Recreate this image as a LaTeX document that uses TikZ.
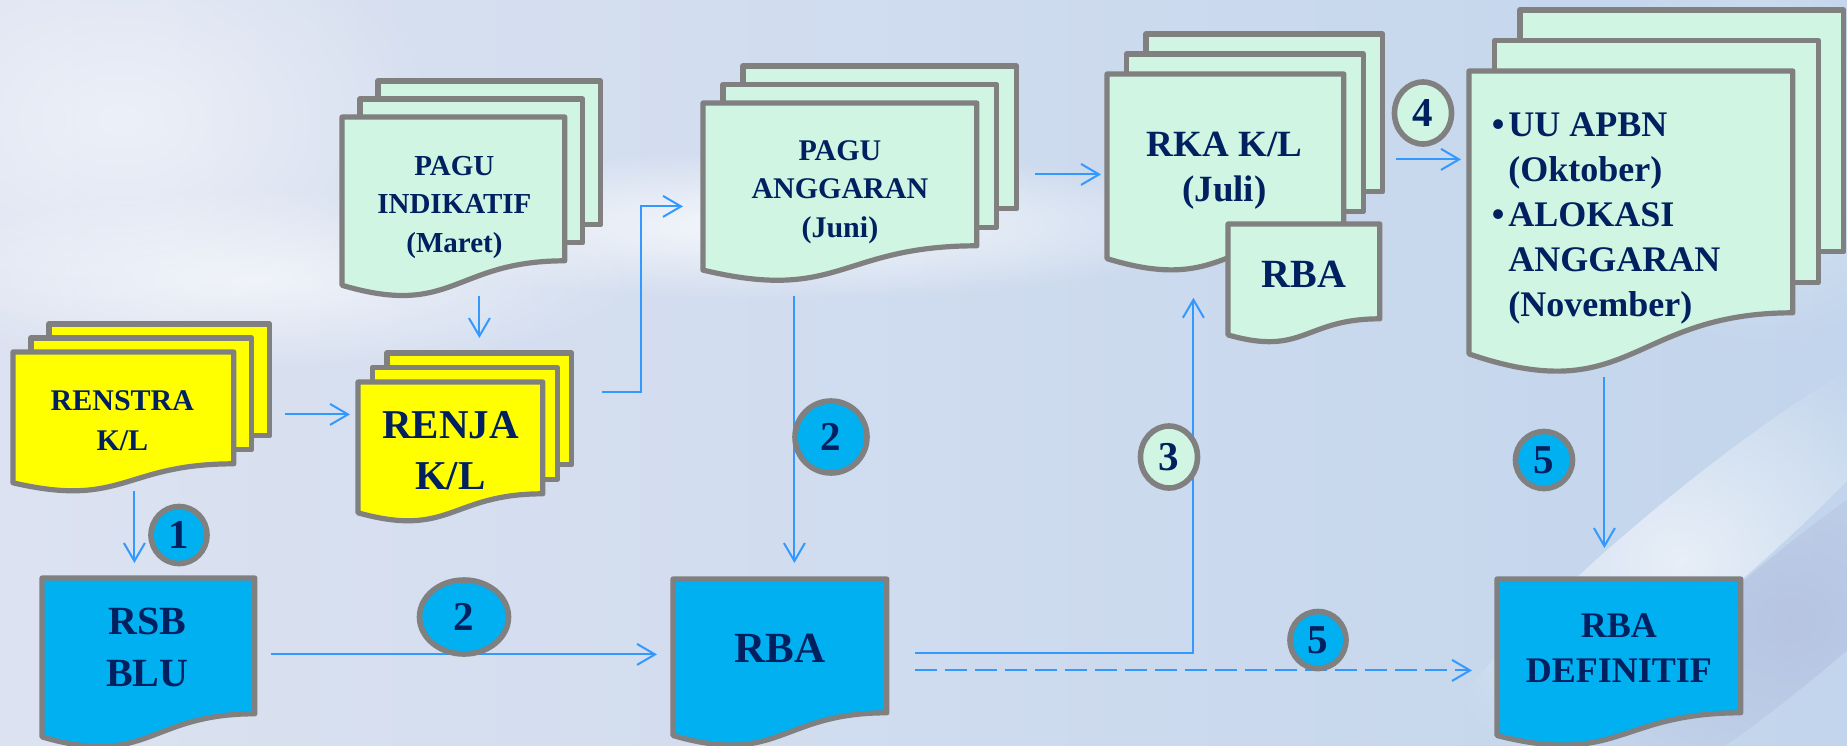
\documentclass[tikz,border=0pt]{standalone}
\usepackage{fontspec}
\setmainfont{Liberation Serif}
\usepackage{tikz}
\usepackage{xcolor}
\usetikzlibrary{shapes.geometric, arrows.meta, calc, fadings}

\definecolor{docyellow}{RGB}{255,255,0}
\definecolor{docgreen}{RGB}{208,245,226}
\definecolor{doccyan}{RGB}{0,176,240}
\definecolor{docgray}{RGB}{128,128,128}
\definecolor{docnavy}{RGB}{0,32,96}
\definecolor{flowblue}{RGB}{51,153,255}
\definecolor{bgleft}{RGB}{220,226,241}
\definecolor{bgright}{RGB}{194,213,236}
\definecolor{bgdeep}{RGB}{168,176,214}

\tikzset{
  sheet/.style={rectangle, inner sep=0pt, anchor=north west},
  docline/.style={draw=docgray, line width=2.6pt, line join=round},
  doctext/.style 2 args={text=docnavy, align=center, inner sep=0pt,
    font=\bfseries\fontsize{#1}{#2}\selectfont},
  num/.style={ellipse, draw=docgray, line width=2.8pt, fill=doccyan, inner sep=0pt,
    text=docnavy, font=\bfseries\fontsize{20.5}{24}\selectfont},
  flow/.style={draw=flowblue, line width=1pt, -{Straight Barb[length=9pt, width=10.5pt]}},
}

\tikzfading[name=haze, inner color=transparent!0, outer color=transparent!100]

% document sheet with a wavy bottom, built on a sheet node
\newcommand\docpage[2]{%
  \draw[docline, fill=#2] (#1.north west) -- (#1.north east) -- (#1.south east)
    .. controls (#1.south) and ($(#1.north)!1.4!(#1.south)$)
    .. ($(#1.north west)!1.17!(#1.south west)$) -- cycle;}
% same, with two sheets stacked behind it
\newcommand\docstack[4]{%
  \foreach \k in {2,1}
    \draw[docline, fill=#2] ($(#1.north west)+\k*(#3,#4)$) rectangle ($(#1.south east)+\k*(#3,#4)$);
  \docpage{#1}{#2}}

\begin{document}
\begin{tikzpicture}[x=0.5pt, y=-0.5pt]
% Backdrop
\clip (0,0) rectangle (1847,745);
\shade[left color=bgleft, right color=bgright] (0,0) rectangle (1847,745);
\fill[white, path fading=haze, opacity=.8] (780,225) ellipse (460 and 75);
\fill[white, path fading=haze, opacity=.6] (260,280) ellipse (380 and 90);
\fill[white, path fading=haze, opacity=.5] (120,120) ellipse (320 and 220);
\fill[white, path fading=haze, opacity=.4] (1760,150) ellipse (200 and 200);
\fill[bgdeep, path fading=haze, opacity=.45, rotate around={40:(1790,620)}] (1790,620) ellipse (320 and 60);
\fill[white, path fading=haze, opacity=.6, rotate around={40:(1680,560)}] (1680,560) ellipse (340 and 55);

% Planning documents
\node[sheet, minimum width=110pt, minimum height=55.5pt] (renstra) at (13,352) {};
\docstack{renstra}{docyellow}{18}{-14}
\node[doctext={15}{20}] (renstratxt) at ($(renstra)+(-1,12.5)$) {RENSTRA\\K/L};

\node[sheet, minimum width=92pt, minimum height=55.5pt] (renja) at (358,382) {};
\docstack{renja}{docyellow}{14.5}{-14.5}
\node[doctext={20.5}{25.5}] (renjatxt) at ($(renja)+(0,12.5)$) {RENJA\\K/L};

\node[sheet, minimum width=111pt, minimum height=71.5pt] (pagui) at (342,117) {};
\docstack{pagui}{docgreen}{18}{-18}
\node[doctext={14.5}{19.25}] (paguitxt) at ($(pagui)+(1,18.5)$) {PAGU\\INDIKATIF\\(Maret)};

\node[sheet, minimum width=136.5pt, minimum height=71pt] (pagua) at (703,103) {};
\docstack{pagua}{docgreen}{20}{-18.5}
\node[doctext={15}{19.25}] (paguatxt) at ($(pagua)+(0,17.5)$) {PAGU\\ANGGARAN\\(Juni)};

\node[sheet, minimum width=118pt, minimum height=78.5pt] (rka) at (1107,74) {};
\docstack{rka}{docgreen}{19.5}{-20}
\node[doctext={18.5}{22.5}] (rkatxt) at ($(rka)+(-1,18)$) {RKA K/L\\(Juli)};

\node[sheet, minimum width=75.5pt, minimum height=47pt] (rbas) at (1228,224) {};
\docpage{rbas}{docgreen}
\node[doctext={20}{24}] (rbastxt) at ($(rbas)+(0,2.5)$) {RBA};

\node[sheet, minimum width=161.5pt, minimum height=120.5pt] (apbn) at (1469,71) {};
\docstack{apbn}{docgreen}{25.5}{-30.5}
\node[doctext={18}{22.5}, align=left, anchor=west] (apbntxt) at ($(apbn.west)+(39,27)$)
  {\llap{\textbullet\hspace{2pt}}UU APBN\\(Oktober)\\\llap{\textbullet\hspace{2pt}}ALOKASI\\ANGGARAN\\(November)};

% BLU documents
\node[sheet, minimum width=106pt, minimum height=67.5pt] (rsb) at (42,578) {};
\docpage{rsb}{doccyan}
\node[doctext={20}{26}] (rsbtxt) at ($(rsb)+(-1,2)$) {RSB\\BLU};

\node[sheet, minimum width=106.5pt, minimum height=66.5pt] (rba) at (673,579) {};
\docpage{rba}{doccyan}
\node[doctext={21.5}{26}] (rbatxt) at ($(rba)+(0,2)$) {RBA};

\node[sheet, minimum width=121.5pt, minimum height=66.5pt] (rbad) at (1497,579) {};
\docpage{rbad}{doccyan}
\node[doctext={18}{22.5}] (rbadtxt) at ($(rbad)+(0,2)$) {RBA\\DEFINITIF};

% Flow
\draw[flow] ($(renstra.east)+(51,6.5)$) -- ($(renja.west)+(-8,-23.5)$);
\draw[flow] ($(renstra.south)+(11,27)$) -- ($(rsb.north)+(-14,-15)$);
\draw[flow] ($(pagui.south)+(26,35)$) -- ($(renja.north)+(29,-44)$);
\draw[flow] ($(renja.east)+(59,-45.5)$) -- ++(39,0) |- ($(pagua.west)+(-20,32)$);
\draw[flow] ($(pagua.south)+(-45.5,50)$) -- ($(rba.north)+(14.5,-16)$);
\draw[flow] ($(rsb.east)+(16,8.5)$) -- ($(rba.west)+(-16,8.5)$);
\draw[flow] ($(rba.east)+(28,7.5)$) -| ($(rka.south)+(-32,66)$);
\draw[flow, dash pattern=on 11pt off 4pt] ($(rba.east)+(28,24.5)$) -- ($(rbad.west)+(-25,24.5)$);
\draw[flow] ($(pagua.east)+(58,0)$) -- ($(rka.west)+(-6,21.5)$);
\draw[flow] ($(rka.east)+(52,6.5)$) -- ($(apbn.west)+(-8,-32.5)$);
\draw[flow] ($(apbn.south)+(-26.5,64)$) -- ($(rbad.north)+(-14.5,-31)$);

% Step numbers
\node[num, minimum width=28pt, minimum height=28.5pt] (n1) at (179,535) {1};
\node[num, minimum width=44.5pt, minimum height=37pt] (n2b) at (464,617) {2};
\node[num, minimum width=36pt, minimum height=36pt] (n2a) at (831,437) {2};
\node[num, fill=docgreen, minimum width=28.5pt, minimum height=31pt] (n3) at (1169,457) {3};
\node[num, fill=docgreen, minimum width=28.5pt, minimum height=31pt] (n4) at (1423,113) {4};
\node[num, minimum width=28pt, minimum height=28.5pt] (n5a) at (1318,640) {5};
\node[num, minimum width=28.5pt, minimum height=28.5pt] (n5b) at (1544,460) {5};
\end{tikzpicture}
\end{document}
